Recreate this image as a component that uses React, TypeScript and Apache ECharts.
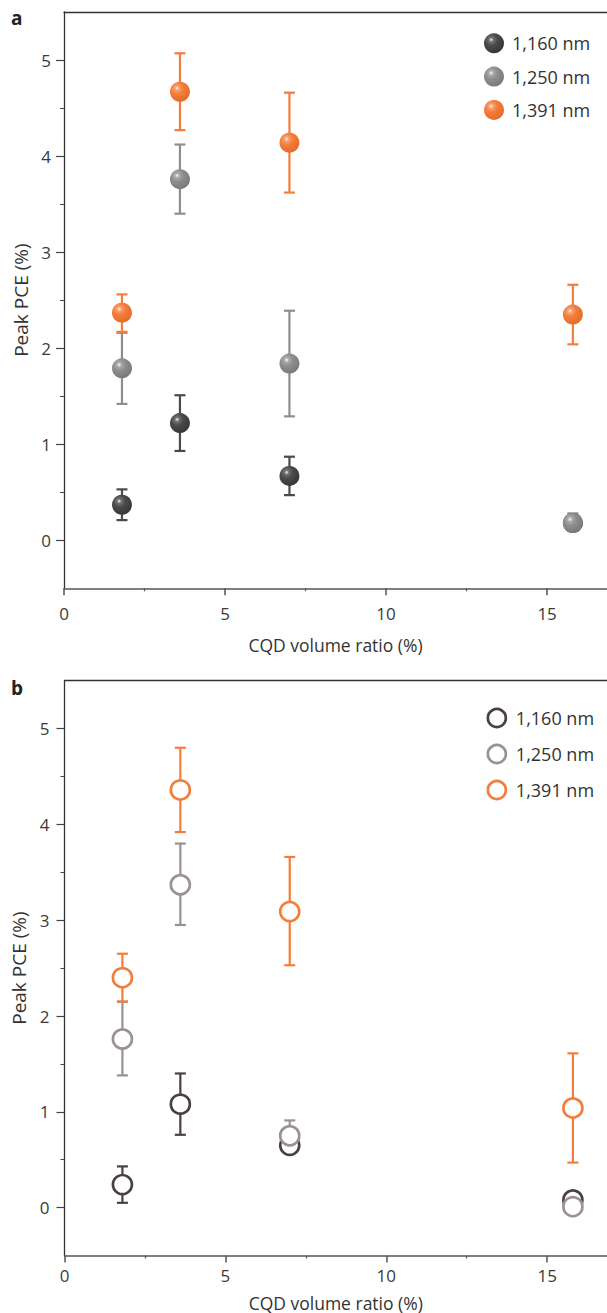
import React, { useEffect, useRef } from 'react';
import * as echarts from 'echarts';

// ---------- data ----------
const xRatio = [1.8, 3.6, 7.0, 15.8];
const seriesNames = ['1,160 nm', '1,250 nm', '1,391 nm'];

// panel a (filled spheres)
const aMean1160 = [0.37, 1.22, 0.67, 0.18];
const aLow1160 = [0.21, 0.93, 0.47, 0.10];
const aHigh1160 = [0.53, 1.51, 0.87, 0.26];
const aMean1250 = [1.79, 3.76, 1.84, 0.18];
const aLow1250 = [1.42, 3.40, 1.29, 0.10];
const aHigh1250 = [2.16, 4.12, 2.39, 0.28];
const aMean1391 = [2.37, 4.67, 4.14, 2.35];
const aLow1391 = [2.17, 4.27, 3.62, 2.04];
const aHigh1391 = [2.56, 5.07, 4.66, 2.66];

// panel b (hollow circles)
const bMean1160 = [0.24, 1.08, 0.65, 0.08];
const bLow1160 = [0.05, 0.76, 0.58, 0.03];
const bHigh1160 = [0.43, 1.40, 0.73, 0.13];
const bMean1250 = [1.76, 3.37, 0.75, 0.01];
const bLow1250 = [1.38, 2.95, 0.60, -0.03];
const bHigh1250 = [2.15, 3.80, 0.91, 0.05];
const bMean1391 = [2.40, 4.36, 3.09, 1.04];
const bLow1391 = [2.15, 3.92, 2.53, 0.47];
const bHigh1391 = [2.65, 4.80, 3.66, 1.61];

const xMin = 0;
const xMax = 16.86;
const yMin = -0.5;
const yMax = 5.5;
const xMajorTicks = [0, 5, 10, 15];
const xMinorTicks = [2.5, 7.5, 12.5];
const yMajorTicks = [0, 1, 2, 3, 4, 5];
const yMinorTicks = [0.5, 1.5, 2.5, 3.5, 4.5];

// ---------- styles ----------
const FONT = '"Open Sans", "Noto Sans", sans-serif';
const aColors = ['#4a4a4a', '#8e8e8e', '#f47d3b'];
const aEdges = ['#383838', '#7a7a7a', '#e56c2a'];
const aHighlights = ['#f4f4f4', '#ffffff', '#fff3ec'];
const aMids = ['#727272', '#acacac', '#f8a070'];
const bColors = ['#4a403d', '#9a9290', '#f47d3b'];

const sphere = (i: number) =>
  new echarts.graphic.RadialGradient(0.36, 0.32, 0.68, [
    { offset: 0, color: aHighlights[i] },
    { offset: 0.16, color: aMids[i] },
    { offset: 0.45, color: aColors[i] },
    { offset: 1, color: aEdges[i] },
  ]);

const pts = (m: number[]) => xRatio.map((x, i) => [x, m[i]]);
const errs = (lo: number[], hi: number[]) => xRatio.map((x, i) => [x, lo[i], hi[i]]);

const errSeries = (name: string, data: number[][], color: string, axis: number) => ({
  type: 'custom',
  name,
  xAxisIndex: axis,
  yAxisIndex: axis,
  data,
  encode: { x: 0, y: [1, 2] },
  silent: true,
  renderItem: (params: any, api: any) => {
    const x = api.value(0);
    const pHi = api.coord([x, api.value(2)]);
    const pLo = api.coord([x, api.value(1)]);
    const cap = 5.5;
    const style = { stroke: color, lineWidth: 2.2, fill: 'none' };
    return {
      type: 'group',
      children: [
        { type: 'line', shape: { x1: pHi[0], y1: pHi[1], x2: pLo[0], y2: pLo[1] }, style },
        { type: 'line', shape: { x1: pHi[0] - cap, y1: pHi[1], x2: pHi[0] + cap, y2: pHi[1] }, style },
        { type: 'line', shape: { x1: pLo[0] - cap, y1: pLo[1], x2: pLo[0] + cap, y2: pLo[1] }, style },
      ],
    };
  },
});

const xAxes = (gridIndex: number, labelMargin: number, nameGap: number) => [
  {
    type: 'value', gridIndex, position: 'bottom', min: xMin, max: xMax,
    name: 'CQD volume ratio (%)', nameLocation: 'middle', nameGap,
    nameTextStyle: { fontSize: 17.5, color: '#333', fontFamily: FONT },
    axisLine: { show: true, onZero: false, lineStyle: { color: '#555', width: 1.5 } },
    axisTick: { show: true, inside: false, length: 7, customValues: xMajorTicks, lineStyle: { color: '#555', width: 1.5 } },
    axisLabel: { customValues: xMajorTicks, margin: labelMargin, fontSize: 17, color: '#3a3a3a', fontFamily: FONT },
    splitLine: { show: false },
  },
  {
    type: 'value', gridIndex, position: 'bottom', min: xMin, max: xMax,
    axisLine: { show: false, onZero: false },
    axisTick: { show: true, inside: false, length: 3, customValues: xMinorTicks, lineStyle: { color: '#555', width: 1.2 } },
    axisLabel: { show: false },
    splitLine: { show: false },
  },
  {
    type: 'value', gridIndex, position: 'top', min: xMin, max: xMax,
    axisLine: { show: true, onZero: false, lineStyle: { color: '#333', width: 1.3 } },
    axisTick: { show: false },
    axisLabel: { show: false },
    splitLine: { show: false },
  },
];

const yAxes = (gridIndex: number, labelMargin: number, nameGap: number) => [
  {
    type: 'value', gridIndex, position: 'left', min: yMin, max: yMax,
    name: 'Peak PCE (%)', nameLocation: 'middle', nameGap, nameRotate: 90,
    nameTextStyle: { fontSize: 19, color: '#333', fontFamily: FONT },
    axisLine: { show: true, onZero: false, lineStyle: { color: '#333', width: 1.3 } },
    axisTick: { show: true, inside: false, length: 8, customValues: yMajorTicks, lineStyle: { color: '#444', width: 1.2 } },
    axisLabel: { customValues: yMajorTicks, margin: labelMargin, fontSize: 17, color: '#3a3a3a', fontFamily: FONT },
    splitLine: { show: false },
  },
  {
    type: 'value', gridIndex, position: 'left', min: yMin, max: yMax,
    axisLine: { show: false, onZero: false },
    axisTick: { show: true, inside: false, length: 4, customValues: yMinorTicks, lineStyle: { color: '#444', width: 1 } },
    axisLabel: { show: false },
    splitLine: { show: false },
  },
];

export default function App() {
  const ref = useRef<HTMLDivElement>(null);
  useEffect(() => {
    if (!ref.current) return;
    const chart = echarts.init(ref.current, null, { renderer: 'svg' });

    const aMeans = [aMean1160, aMean1250, aMean1391];
    const aLows = [aLow1160, aLow1250, aLow1391];
    const aHighs = [aHigh1160, aHigh1250, aHigh1391];
    const bMeans = [bMean1160, bMean1250, bMean1391];
    const bLows = [bLow1160, bLow1250, bLow1391];
    const bHighs = [bHigh1160, bHigh1250, bHigh1391];

    const series: any[] = [];
    seriesNames.forEach((name, i) => {
      series.push(errSeries(name, errs(aLows[i], aHighs[i]), aColors[i], 0));
      series.push({
        type: 'scatter', name, xAxisIndex: 0, yAxisIndex: 0,
        data: pts(aMeans[i]), symbol: 'circle', symbolSize: 20,
        itemStyle: { color: sphere(i), opacity: 1 },
        silent: true,
      });
    });
    seriesNames.forEach((name, i) => {
      series.push(errSeries(name, errs(bLows[i], bHighs[i]), bColors[i], 3));
      series.push({
        type: 'scatter', name, xAxisIndex: 3, yAxisIndex: 2,
        data: pts(bMeans[i]), symbol: 'circle', symbolSize: 19,
        itemStyle: { color: '#ffffff', borderColor: bColors[i], borderWidth: 2.7, opacity: 1 },
        silent: true,
      });
    });
    // fix y index for panel b error series
    series.forEach((s) => {
      if (s.type === 'custom' && s.xAxisIndex === 3) s.yAxisIndex = 2;
    });

    const option: any = {
      animation: false,
      backgroundColor: '#ffffff',
      textStyle: { fontFamily: FONT },
      grid: [
        { left: 64, top: 12, width: 543, height: 576.3 },
        { left: 64.5, top: 680.7, width: 542.5, height: 574.8 },
      ],
      xAxis: [...xAxes(0, 17, 48), ...xAxes(1, 11, 38)],
      yAxis: [...yAxes(0, 13, 34), ...yAxes(1, 15, 34)],
      legend: [
        {
          orient: 'vertical', left: 484, top: 33.3, padding: 0, itemWidth: 20, itemHeight: 20, itemGap: 13.3,
          selectedMode: false,
          textStyle: { fontSize: 18, lineHeight: 20, color: '#333', fontFamily: FONT, padding: [0, 0, 0, 3] },
          data: seriesNames.map((name, i) => ({ name, icon: 'circle', itemStyle: { color: sphere(i), borderWidth: 0 } })),
        },
        {
          orient: 'vertical', left: 486.5, top: 707.7, padding: 0, itemWidth: 18, itemHeight: 18, itemGap: 15.3,
          selectedMode: false,
          textStyle: { fontSize: 18, lineHeight: 18, color: '#333', fontFamily: FONT, padding: [0, 0, 0, 5] },
          data: seriesNames.map((name, i) => ({ name, icon: 'circle', itemStyle: { color: '#ffffff', borderColor: bColors[i], borderWidth: 2.7 } })),
        },
      ],
      graphic: [
        { type: 'text', left: 11, top: 8, style: { text: 'a', font: `bold 19px ${FONT}`, fill: '#222' } },
        { type: 'text', left: 11, top: 678, style: { text: 'b', font: `bold 19px ${FONT}`, fill: '#222' } },
      ],
      series,
    };
    chart.setOption(option);
    return () => chart.dispose();
  }, []);
  return (
    <div
      ref={ref}
      style={{ position: 'absolute', left: 0, top: 0, width: 607, height: 1313, background: '#fff' }}
    />
  );
}
